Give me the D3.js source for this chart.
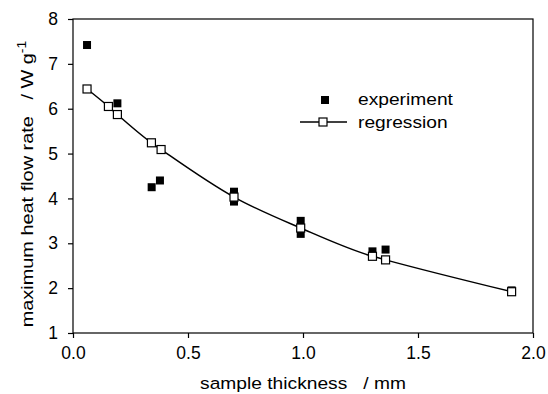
<!DOCTYPE html>
<html>
<head>
<meta charset="utf-8">
<script src="https://cdn.jsdelivr.net/npm/d3@7"></script>
<style>
  body { margin: 0; background: #fff; }
  text { font-family: "Liberation Sans", Arial, sans-serif; fill: #000; }
</style>
</head>
<body>
<svg id="chart" width="548" height="394"></svg>
<script>
// experiment: thickness (mm) and max heat flow rate (W/g)
const expThickness = [0.061, 0.193, 0.342, 0.378, 0.70, 0.70, 0.99, 0.99, 1.302, 1.359, 1.907];
const expRate      = [7.42, 6.12, 4.25, 4.40, 4.15, 3.93, 3.50, 3.21, 2.82, 2.86, 1.95];

// regression points
const regThickness = [0.061, 0.154, 0.193, 0.341, 0.383, 0.70, 0.99, 1.302, 1.359, 1.907];
const regRate      = [6.44, 6.05, 5.87, 5.24, 5.09, 4.03, 3.34, 2.71, 2.63, 1.92];

const xTicks = [0, 0.5, 1.0, 1.5, 2.0];
const yTicks = [1, 2, 3, 4, 5, 6, 7, 8];

const svg = d3.select("#chart");
const margin = { top: 19, right: 15, bottom: 61, left: 73 };
const width = +svg.attr("width") - margin.left - margin.right;
const height = +svg.attr("height") - margin.top - margin.bottom;
const stretch = 1.13; // the scanned lettering is a bit wide

const chart = svg.append("g")
    .attr("transform", `translate(${margin.left}, ${margin.top})`);

const x = d3.scaleLinear().domain([0, 2]).range([0, width]);
const y = d3.scaleLinear().domain([1, 8]).range([height, 0]);

// box
chart.append("rect")
    .attr("width", width)
    .attr("height", height)
    .attr("fill", "none")
    .attr("stroke", "#000")
    .attr("stroke-width", 1.2);

// axes
const xAxis = chart.append("g")
    .attr("transform", `translate(0, ${height})`)
    .call(d3.axisBottom(x).tickValues(xTicks).tickFormat(d3.format(".1f")).tickSize(5).tickPadding(9));

const yAxis = chart.append("g")
    .call(d3.axisLeft(y).tickValues(yTicks).tickFormat(d3.format("d")).tickSize(5).tickPadding(10));

[xAxis, yAxis].forEach(a => {
    a.select(".domain").remove();
    a.selectAll("line").attr("stroke", "#000").attr("stroke-width", 1.2);
    a.selectAll("text")
        .attr("font-family", "Liberation Sans, Arial, sans-serif")
        .attr("font-size", 17.5)
        .attr("fill", "#000");
});

// regression curve
const regData = regThickness.map((t, i) => ({ t, r: regRate[i] }));
const line = d3.line()
    .x(d => x(d.t))
    .y(d => y(d.r))
    .curve(d3.curveMonotoneX);

chart.append("path")
    .datum(regData)
    .attr("d", line)
    .attr("fill", "none")
    .attr("stroke", "#000")
    .attr("stroke-width", 1.5);

// experiment squares
const expData = expThickness.map((t, i) => ({ t, r: expRate[i] }));
const fs = 8;
chart.append("g")
    .selectAll("rect")
    .data(expData)
    .join("rect")
    .attr("x", d => x(d.t) - fs / 2)
    .attr("y", d => y(d.r) - fs / 2)
    .attr("width", fs)
    .attr("height", fs)
    .attr("fill", "#000");

// regression squares
const os = 8;
chart.append("g")
    .selectAll("rect")
    .data(regData)
    .join("rect")
    .attr("x", d => x(d.t) - os / 2)
    .attr("y", d => y(d.r) - os / 2)
    .attr("width", os)
    .attr("height", os)
    .attr("fill", "#fff")
    .attr("stroke", "#000")
    .attr("stroke-width", 1.2);

// legend
const legend = svg.append("g").attr("transform", "translate(300, 100)");
legend.append("rect")
    .attr("x", 21).attr("y", -4).attr("width", fs).attr("height", fs)
    .attr("fill", "#000");
legend.append("text")
    .attr("transform", `translate(58, 5) scale(${stretch}, 1)`)
    .attr("font-size", 17)
    .text("experiment");
legend.append("line")
    .attr("x1", 0).attr("x2", 47).attr("y1", 22).attr("y2", 22)
    .attr("stroke", "#000").attr("stroke-width", 1.5);
legend.append("rect")
    .attr("x", 19).attr("y", 18).attr("width", os).attr("height", os)
    .attr("fill", "#fff").attr("stroke", "#000").attr("stroke-width", 1.2);
legend.append("text")
    .attr("transform", `translate(58, 28) scale(${stretch}, 1)`)
    .attr("font-size", 17)
    .text("regression");

// axis titles
svg.append("text")
    .attr("transform", `translate(${margin.left + width / 2}, 389) scale(${stretch}, 1)`)
    .attr("text-anchor", "middle")
    .attr("font-size", 17)
    .style("white-space", "pre")
    .text("sample thickness   / mm");

const yTitle = svg.append("text")
    .attr("transform", `translate(33, 184) rotate(-90) scale(1.17, 1)`)
    .attr("text-anchor", "middle")
    .attr("font-size", 17)
    .style("white-space", "pre");
yTitle.append("tspan").text("maximum heat flow rate   / W g");
yTitle.append("tspan").attr("dy", -7).attr("font-size", 12).text("-1");
</script>
</body>
</html>
